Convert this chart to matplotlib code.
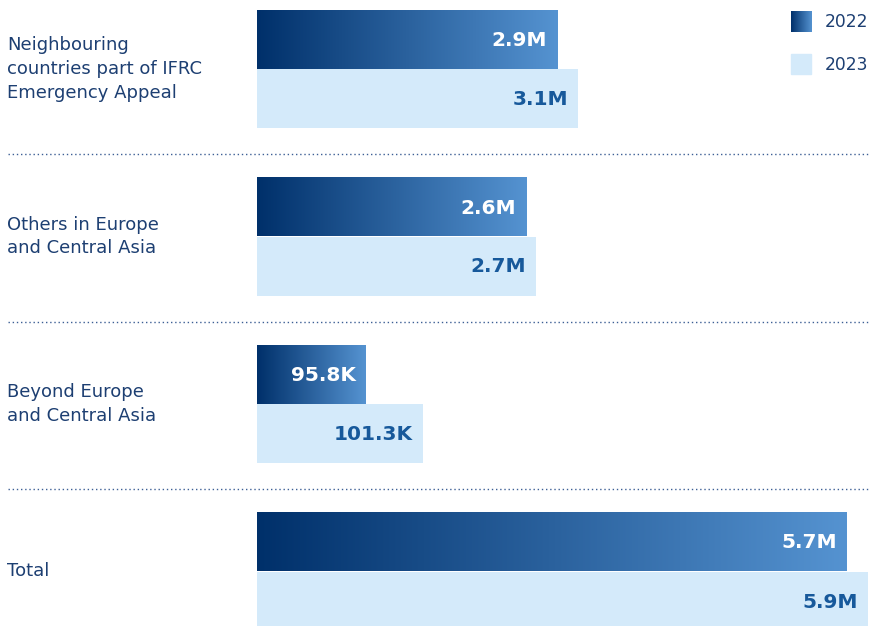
import numpy as np
import matplotlib
matplotlib.use("Agg")
import matplotlib.pyplot as plt
from matplotlib.colors import LinearSegmentedColormap

# data
categories = ["Neighbouring\ncountries part of IFRC\nEmergency Appeal",
              "Others in Europe\nand Central Asia",
              "Beyond Europe\nand Central Asia",
              "Total"]
labels_2022 = ["2.9M", "2.6M", "95.8K", "5.7M"]
labels_2023 = ["3.1M", "2.7M", "101.3K", "5.9M"]
# bar lengths in millions as drawn in the source (the K bars are stretched there)
bar_2022 = [2.9, 2.6, 1.05, 5.7]
bar_2023 = [3.1, 2.7, 1.6, 5.9]
years = ["2022", "2023"]

navy = "#1d3f72"
light = "#d4eafa"
val23 = "#17599b"
grad = LinearSegmentedColormap.from_list("g", ["#00306a", "#5593d1"])
gimg = np.linspace(0, 1, 256).reshape(1, -1)

plt.rcParams['font.family'] = ['DejaVu Sans']

W, H = 869, 626
fig = plt.figure(figsize=(W / 100, H / 100), dpi=100)
ax = fig.add_axes([0, 0, 1, 1])
ppm = 103.5  # pixels per million
x0 = 257 / ppm

pitch = 167.5
bh = 59
for i in range(len(categories)):
    top = 10 + pitch * i
    w = bar_2022[i]
    ax.imshow(gimg, cmap=grad, extent=(0, w, top + bh, top), aspect='auto', interpolation='bilinear')
    ax.text(w - 10 / ppm, top + bh / 2 + 1, labels_2022[i], ha='right', va='center',
            color='white', fontsize=14.5, fontweight='bold')
    ax.barh(top + bh + bh / 2, bar_2023[i], height=bh, left=0, color=light)
    ax.text(bar_2023[i] - 10 / ppm, top + bh * 1.5 + 1, labels_2023[i], ha='right', va='center',
            color=val23, fontsize=14.5, fontweight='bold')
    ax.text(-x0 + 7 / ppm, top + bh, categories[i], ha='left', va='center',
            color=navy, fontsize=13, linespacing=1.42)
    if i < len(categories) - 1:
        ys = top + bh * 2 + 26
        ax.plot([-x0 + 8 / ppm, 868 / ppm - x0], [ys, ys], linestyle=(0, (1, 2)),
                color="#3d5f95", lw=1)

# legend
lx = (791 - 257) / ppm
ax.imshow(gimg, cmap=grad, extent=(lx, lx + 21 / ppm, 32, 11), aspect='auto', interpolation='bilinear')
ax.add_patch(plt.Rectangle((lx, 54), 20 / ppm, 20, color=light))
ax.text(lx + 34 / ppm, 22, years[0], ha='left', va='center', color=navy, fontsize=12.3)
ax.text(lx + 34 / ppm, 65, years[1], ha='left', va='center', color=navy, fontsize=12.3)

ax.set_xlim(-x0, (W - 257) / ppm)
ax.set_ylim(H, 0)
ax.axis('off')

plt.savefig("out.png", dpi=100)
